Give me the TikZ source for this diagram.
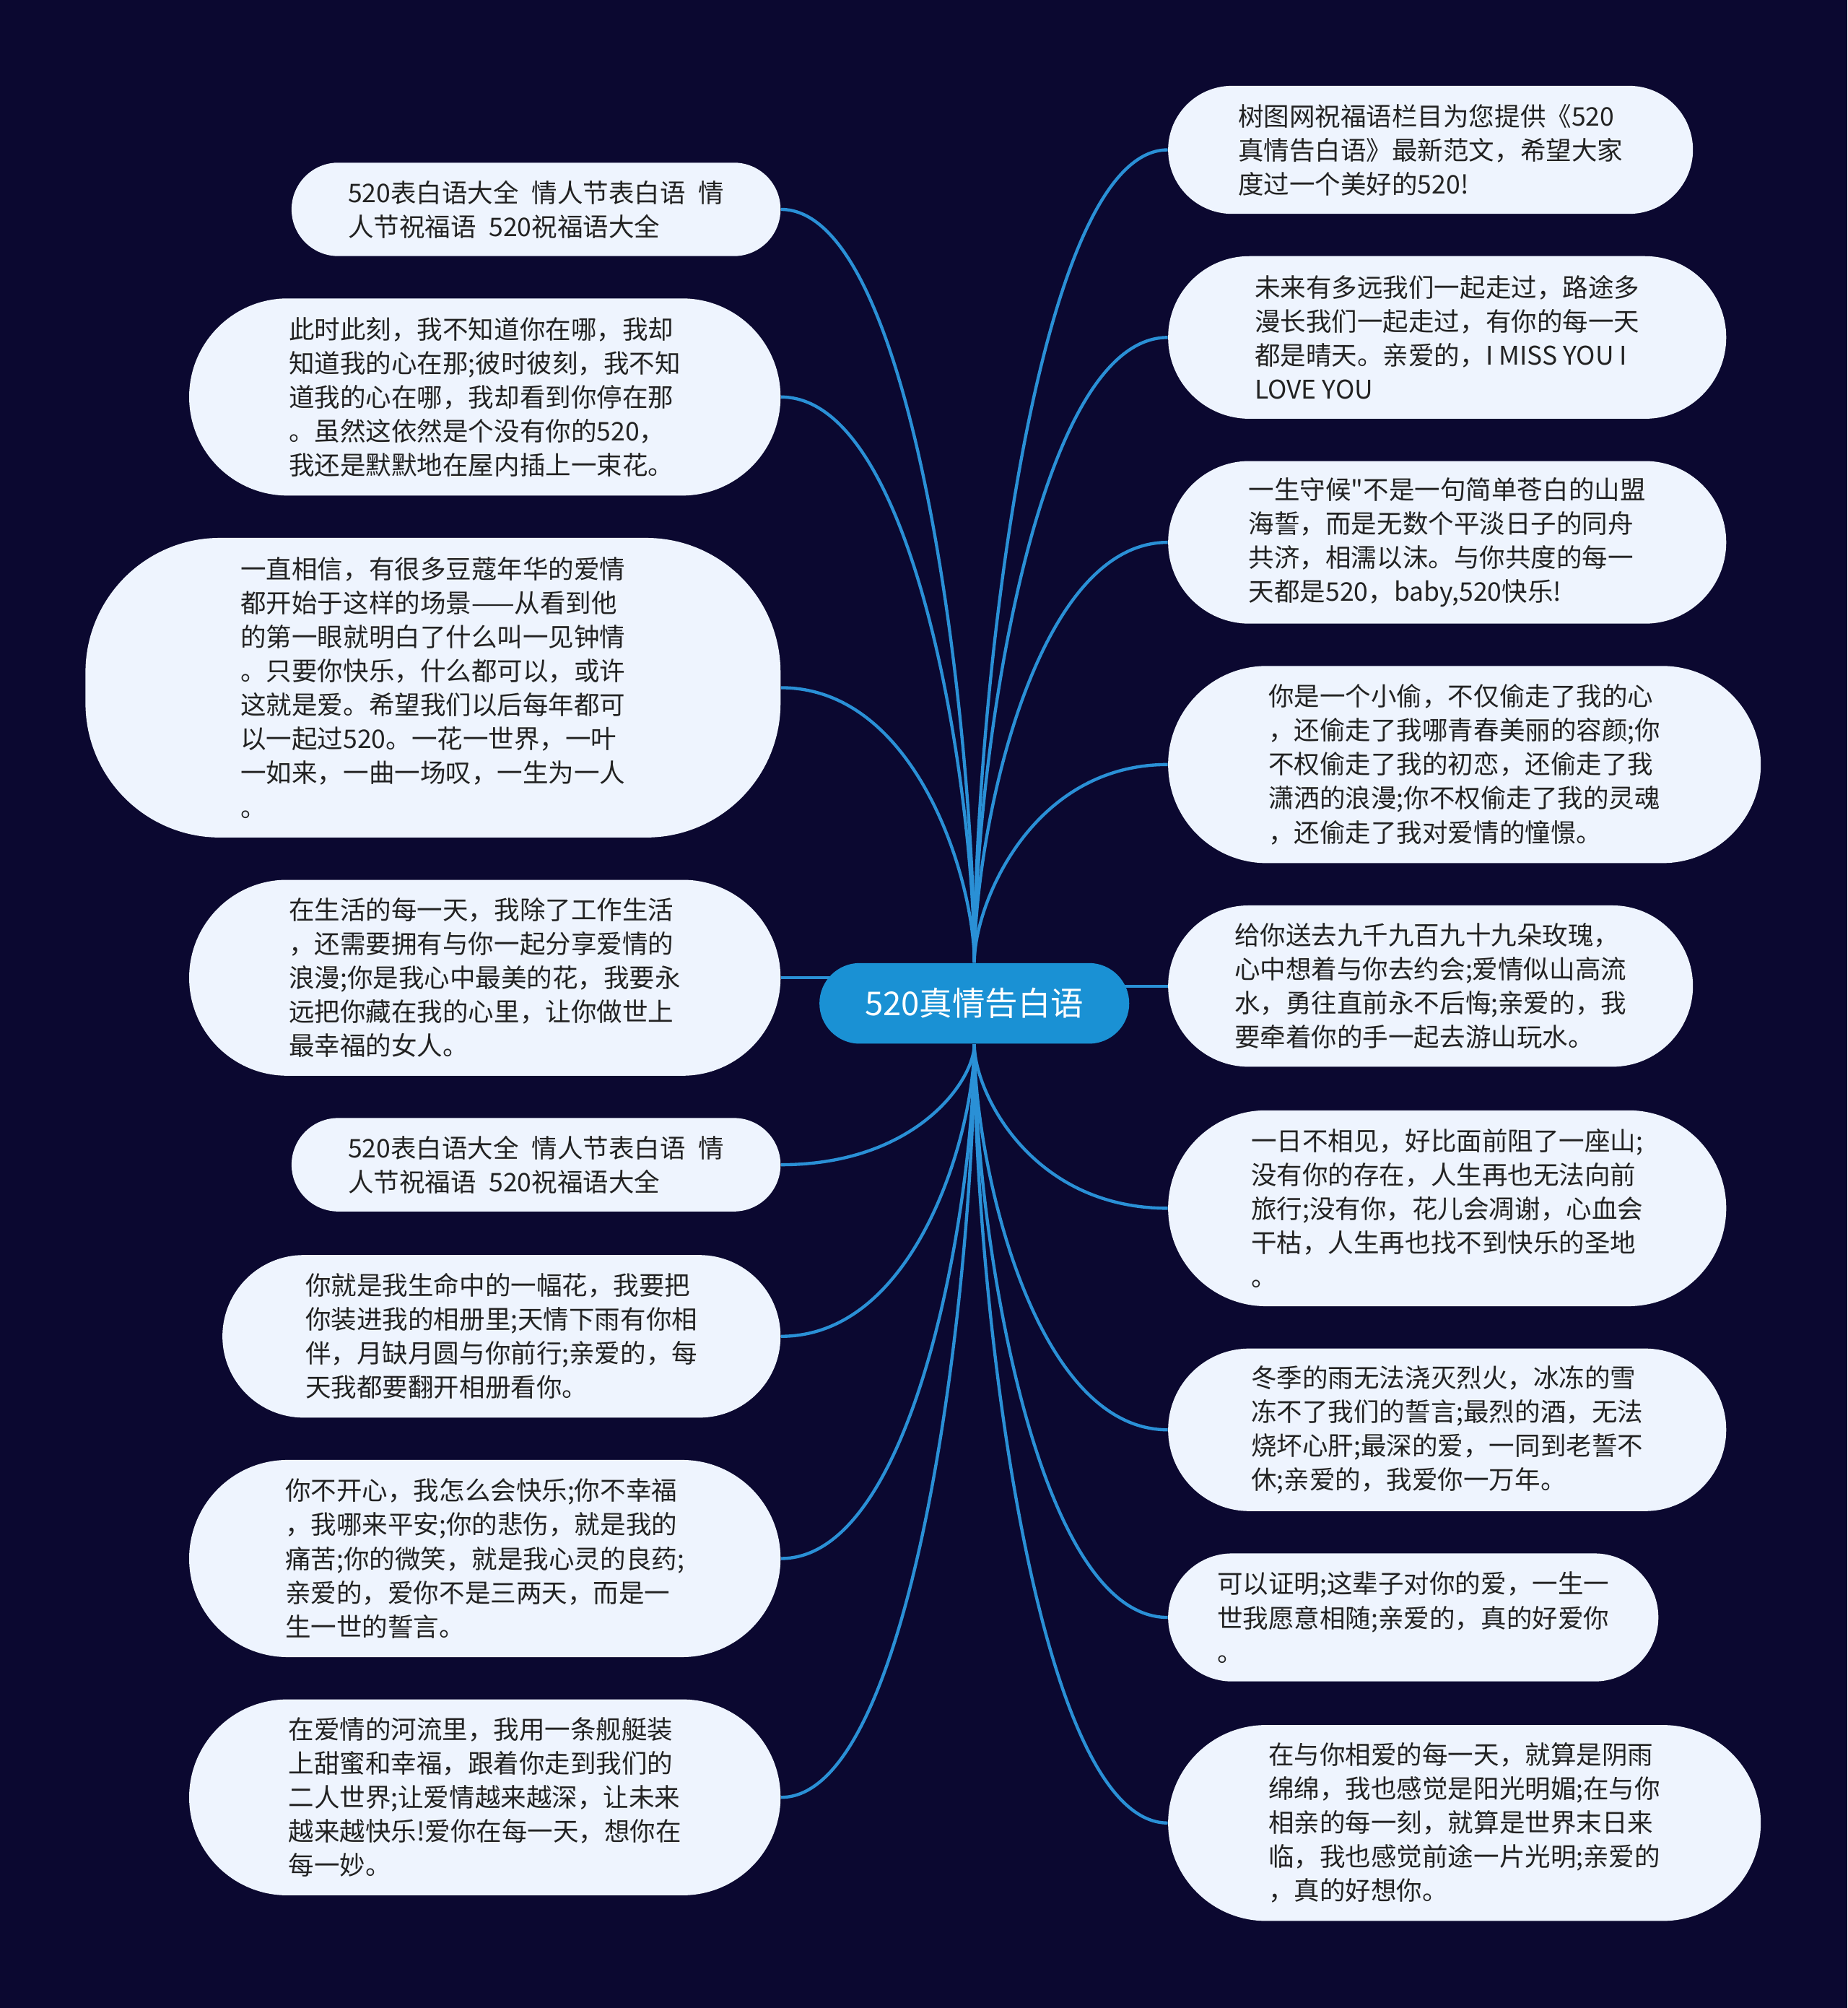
\documentclass[tikz,border=0pt]{standalone}
\usepackage{fontspec}
\setmainfont{Noto Sans CJK SC}[Ligatures=TeXOff]
\usetikzlibrary{positioning,calc,backgrounds}

\definecolor{pagebg}{HTML}{0B0830}
\definecolor{bubblebg}{HTML}{EEF4FE}
\definecolor{bubbletext}{HTML}{222222}
\definecolor{rootblue}{HTML}{1A91D4}
\definecolor{linkblue}{HTML}{2A90D6}

\begin{document}
\begin{tikzpicture}[x=0.02cm, y=-0.02cm,
  bubble/.style={fill=bubblebg, text=bubbletext, align=left, inner sep=2pt,
                 font=\fontsize{11.4pt}{15.1pt}\selectfont},
  root/.style={fill=rootblue, text=white, inner sep=2pt,
               font=\fontsize{14.6pt}{17pt}\selectfont,
               minimum width=4.84cm, minimum height=1.26cm, rounded corners=0.63cm},
  link/.style={draw=linkblue, line width=1.4pt}]
  \useasboundingbox (0,0) rectangle (1443,1568);
  \begin{scope}[on background layer]
    \fill[pagebg] (0,0) rectangle (1443,1568);
  \end{scope}

  % centre
  \node[root] (c) at (761,783.5) {520真情告白语};

  % left branch
  \node[bubble, anchor=east, minimum width=7.64cm, minimum height=1.46cm, rounded corners=0.73cm] (l1) at (610,163.5)
    {520表白语大全\hspace{0.5em}情人节表白语\hspace{0.5em}情\\人节祝福语\hspace{0.5em}520祝福语大全};
  \node[bubble, anchor=east, minimum width=9.24cm, minimum height=3.08cm, rounded corners=1.54cm] (l2) at (610,310)
    {此时此刻，我不知道你在哪，我却\\知道我的心在那;彼时彼刻，我不知\\道我的心在哪，我却看到你停在那\\。虽然这依然是个没有你的520，\\我还是默默地在屋内插上一束花。};
  \node[bubble, anchor=east, minimum width=10.86cm, minimum height=4.68cm, rounded corners=2.1cm] (l3) at (610,537)
    {一直相信，有很多豆蔻年华的爱情\\都开始于这样的场景——从看到他\\的第一眼就明白了什么叫一见钟情\\。只要你快乐，什么都可以，或许\\这就是爱。希望我们以后每年都可\\以一起过520。一花一世界，一叶\\一如来，一曲一场叹，一生为一人\\。};
  \node[bubble, anchor=east, minimum width=9.24cm, minimum height=3.06cm, rounded corners=1.53cm] (l4) at (610,763.5)
    {在生活的每一天，我除了工作生活\\，还需要拥有与你一起分享爱情的\\浪漫;你是我心中最美的花，我要永\\远把你藏在我的心里，让你做世上\\最幸福的女人。};
  \node[bubble, anchor=east, minimum width=7.64cm, minimum height=1.46cm, rounded corners=0.73cm] (l5) at (610,909.5)
    {520表白语大全\hspace{0.5em}情人节表白语\hspace{0.5em}情\\人节祝福语\hspace{0.5em}520祝福语大全};
  \node[bubble, anchor=east, minimum width=8.72cm, minimum height=2.54cm, rounded corners=1.27cm] (l6) at (610,1043.5)
    {你就是我生命中的一幅花，我要把\\你装进我的相册里;天情下雨有你相\\伴，月缺月圆与你前行;亲爱的，每\\天我都要翻开相册看你。};
  \node[bubble, anchor=east, minimum width=9.24cm, minimum height=3.08cm, rounded corners=1.54cm] (l7) at (610,1217)
    {你不开心，我怎么会快乐;你不幸福\\，我哪来平安;你的悲伤，就是我的\\痛苦;你的微笑，就是我心灵的良药;\\亲爱的，爱你不是三两天，而是一\\生一世的誓言。};
  \node[bubble, anchor=east, minimum width=9.24cm, minimum height=3.06cm, rounded corners=1.53cm] (l8) at (610,1403.5)
    {在爱情的河流里，我用一条舰艇装\\上甜蜜和幸福，跟着你走到我们的\\二人世界;让爱情越来越深，让未来\\越来越快乐!爱你在每一天，想你在\\每一妙。};

  % right branch
  \node[bubble, anchor=west, minimum width=8.2cm, minimum height=2.0cm, rounded corners=1.0cm] (r1) at (912,117)
    {树图网祝福语栏目为您提供《520\\真情告白语》最新范文，希望大家\\度过一个美好的520!};
  \node[bubble, anchor=west, minimum width=8.72cm, minimum height=2.54cm, rounded corners=1.27cm] (r2) at (912,263.5)
    {未来有多远我们一起走过，路途多\\漫长我们一起走过，有你的每一天\\都是晴天。亲爱的，I MISS YOU I\\LOVE YOU};
  \node[bubble, anchor=west, minimum width=8.72cm, minimum height=2.54cm, rounded corners=1.27cm] (r3) at (912,423.5)
    {一生守候"不是一句简单苍白的山盟\\海誓，而是无数个平淡日子的同舟\\共济，相濡以沫。与你共度的每一\\天都是520，baby,520快乐!};
  \node[bubble, anchor=west, minimum width=9.26cm, minimum height=3.08cm, rounded corners=1.54cm] (r4) at (912,597)
    {你是一个小偷，不仅偷走了我的心\\，还偷走了我哪青春美丽的容颜;你\\不权偷走了我的初恋，还偷走了我\\潇洒的浪漫;你不权偷走了我的灵魂\\，还偷走了我对爱情的憧憬。};
  \node[bubble, anchor=west, minimum width=8.2cm, minimum height=2.52cm, rounded corners=1.26cm] (r5) at (912,770)
    {给你送去九千九百九十九朵玫瑰，\\心中想着与你去约会;爱情似山高流\\水，勇往直前永不后悔;亲爱的，我\\要牵着你的手一起去游山玩水。};
  \node[bubble, anchor=west, minimum width=8.72cm, minimum height=3.06cm, rounded corners=1.53cm] (r6) at (912,943.5)
    {一日不相见，好比面前阻了一座山;\\没有你的存在，人生再也无法向前\\旅行;没有你，花儿会凋谢，心血会\\干枯，人生再也找不到快乐的圣地\\。};
  \node[bubble, anchor=west, minimum width=8.72cm, minimum height=2.54cm, rounded corners=1.27cm] (r7) at (912,1116.5)
    {冬季的雨无法浇灭烈火，冰冻的雪\\冻不了我们的誓言;最烈的酒，无法\\烧坏心肝;最深的爱，一同到老誓不\\休;亲爱的，我爱你一万年。};
  \node[bubble, anchor=west, minimum width=7.66cm, minimum height=2.0cm, rounded corners=1.0cm] (r8) at (912,1263)
    {可以证明;这辈子对你的爱，一生一\\世我愿意相随;亲爱的，真的好爱你\\。};
  \node[bubble, anchor=west, minimum width=9.26cm, minimum height=3.06cm, rounded corners=1.53cm] (r9) at (912,1423.5)
    {在与你相爱的每一天，就算是阴雨\\绵绵，我也感觉是阳光明媚;在与你\\相亲的每一刻，就算是世界末日来\\临，我也感觉前途一片光明;亲爱的\\，真的好想你。};

  % connectors
  \begin{scope}[on background layer]
    \foreach \nd in {l1,l2,l3}
      \draw[link] (c.north) .. controls ($(c.north)!0.3!(c.north |- \nd.east)$)
        and ($(\nd.east)!0.7!(c.north |- \nd.east)$) .. (\nd.east);
    \foreach \nd in {l5,l6,l7,l8}
      \draw[link] (c.south) .. controls ($(c.south)!0.3!(c.south |- \nd.east)$)
        and ($(\nd.east)!0.7!(c.south |- \nd.east)$) .. (\nd.east);
    \foreach \nd in {r1,r2,r3,r4}
      \draw[link] (c.north) .. controls ($(c.north)!0.3!(c.north |- \nd.west)$)
        and ($(\nd.west)!0.7!(c.north |- \nd.west)$) .. (\nd.west);
    \foreach \nd in {r6,r7,r8,r9}
      \draw[link] (c.south) .. controls ($(c.south)!0.3!(c.south |- \nd.west)$)
        and ($(\nd.west)!0.7!(c.south |- \nd.west)$) .. (\nd.west);
    \draw[link] (l4.east) -- (l4.east -| c.center);
    \draw[link] (r5.west) -- (r5.west -| c.center);
  \end{scope}
\end{tikzpicture}
\end{document}
